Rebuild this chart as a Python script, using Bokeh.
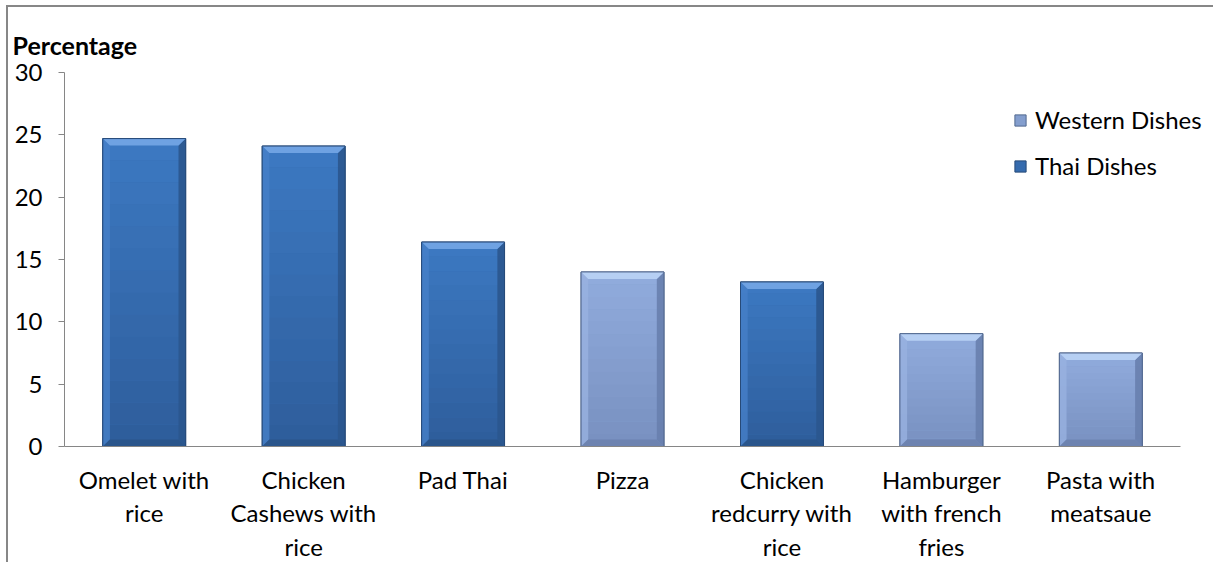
from bokeh.plotting import figure
from bokeh.models import Range1d, FixedTicker, Legend, LegendItem
from bokeh.embed import file_html
from bokeh.resources import INLINE

categories = ["Omelet with rice", "Chicken Cashews with rice", "Pad Thai", "Pizza",
              "Chicken redcurry with rice", "Hamburger with french fries", "Pasta with meatsaue"]
tick_labels = ["Omelet with\nrice", "Chicken\nCashews with\nrice", "Pad Thai", "Pizza",
               "Chicken\nredcurry with\nrice", "Hamburger\nwith french\nfries", "Pasta with\nmeatsaue"]
percentages = [24.7, 24.1, 16.4, 14.0, 13.2, 9.05, 7.5]
groups = ["Thai Dishes", "Thai Dishes", "Thai Dishes", "Western Dishes",
          "Thai Dishes", "Western Dishes", "Western Dishes"]
y_ticks = [0, 5, 10, 15, 20, 25, 30]

palette = {
    "Thai Dishes": dict(top="#3C79C2", bottom="#2E5D9B", bevel_top="#6FA2E2", left="#4680C8",
                        right="#2B568E", bot="#2A5489", line="#274A78"),
    "Western Dishes": dict(top="#91ACDD", bottom="#7890C0", bevel_top="#B6CFF3", left="#98B2E0",
                           right="#6880AE", bot="#6B82AE", line="#52688F"),
}

FONT = "Lato"
W = 0.52          # bar width in category units
DX = 0.045        # bevel width (category units)
DY = 0.56         # bevel height (data units)
N_SLICES = 14
n = len(categories)

p = figure(width=1210, height=570, x_range=Range1d(0, n * 1.034), y_range=Range1d(0, 30),
           output_backend="svg", toolbar_location=None,
           min_border_left=56, min_border_right=0, min_border_top=65, min_border_bottom=131)
p.styles = {"margin-left": "6px", "margin-top": "5px",
            "border-left": "2px solid #878787", "border-top": "2px solid #878787"}
p.outline_line_color = None
p.xgrid.visible = False
p.ygrid.visible = False
p.background_fill_color = "white"
p.border_fill_color = "white"

centers = [i + 0.5 for i in range(n)]

def hex2rgb(h):
    h = h.lstrip("#")
    return [int(h[i:i + 2], 16) for i in (0, 2, 4)]

def mix(c1, c2, t):
    a, b = hex2rgb(c1), hex2rgb(c2)
    return "#%02x%02x%02x" % tuple(int(round(a[k] + (b[k] - a[k]) * t)) for k in range(3))

legend_renderers = {}
for g in ["Western Dishes", "Thai Dishes"]:
    pal = palette[g]
    xs = [c for c, gg in zip(centers, groups) if gg == g]
    vs = [v for v, gg in zip(percentages, groups) if gg == g]
    base = p.vbar(x=xs, top=vs, bottom=0, width=W, fill_color=mix(pal["top"], pal["bottom"], 0.5),
                  line_color=pal["line"], line_width=1)
    legend_renderers[g] = base
    sx, sb, st, sc = [], [], [], []
    for c, v in zip(xs, vs):
        for k in range(N_SLICES):
            sx.append(c)
            sb.append(v * k / N_SLICES)
            st.append(v * (k + 1) / N_SLICES)
            sc.append(mix(pal["bottom"], pal["top"], (k + 0.5) / N_SLICES))
    p.vbar(x=sx, bottom=sb, top=st, width=W, fill_color=sc, line_color=None)
    top_x, top_y, l_x, l_y, r_x, r_y, b_x, b_y = [], [], [], [], [], [], [], []
    for c, v in zip(xs, vs):
        x0, x1 = c - W / 2, c + W / 2
        top_x.append([x0, x1, x1 - DX, x0 + DX]); top_y.append([v, v, v - DY, v - DY])
        l_x.append([x0, x0, x0 + DX, x0 + DX]); l_y.append([0, v, v - DY, DY])
        r_x.append([x1, x1, x1 - DX, x1 - DX]); r_y.append([0, v, v - DY, DY])
        b_x.append([x0, x1, x1 - DX, x0 + DX]); b_y.append([0, 0, DY, DY])
    p.patches(l_x, l_y, fill_color=pal["left"], line_color=None, fill_alpha=0.8)
    p.patches(r_x, r_y, fill_color=pal["right"], line_color=None, fill_alpha=0.9)
    p.patches(b_x, b_y, fill_color=pal["bot"], line_color=None, fill_alpha=0.9)
    p.patches(top_x, top_y, fill_color=pal["bevel_top"], line_color=None)
    p.vbar(x=xs, top=vs, bottom=0, width=W, fill_color=None, line_color=pal["line"], line_width=1)

yax = p.yaxis[0]
yax.ticker = FixedTicker(ticks=y_ticks)
yax.minor_tick_line_color = None
yax.major_tick_out = 6
yax.major_tick_in = 0
yax.major_label_standoff = 16
yax.axis_line_color = "#868686"
yax.major_tick_line_color = "#868686"
yax.major_label_text_font = FONT
yax.major_label_text_font_size = "24px"
yax.major_label_text_color = "black"

xax = p.xaxis[0]
xax.ticker = FixedTicker(ticks=centers)
xax.bounds = (0, n)
xax.major_label_overrides = {c: lab for c, lab in zip(centers, tick_labels)}
xax.minor_tick_line_color = None
xax.major_tick_line_color = None
xax.major_tick_out = 0
xax.major_tick_in = 0
xax.major_label_standoff = 18
xax.axis_line_color = "#868686"
xax.major_label_text_font = FONT
xax.major_label_text_font_size = "24px"
xax.major_label_text_color = "black"
xax.major_label_text_line_height = 1.16

p.title.text = "Percentage"
p.title.align = "left"
p.title.offset = -52
p.title.standoff = 26
p.title.text_font = FONT
p.title.text_font_style = "bold"
p.title.text_font_size = "25px"
p.title.text_color = "black"

legend = Legend(items=[LegendItem(label="Western Dishes", renderers=[legend_renderers["Western Dishes"]]),
                       LegendItem(label="Thai Dishes", renderers=[legend_renderers["Thai Dishes"]])],
                location=(949, 266), glyph_width=14, glyph_height=14, label_standoff=8,
                spacing=17, padding=0, margin=0, border_line_color=None, background_fill_alpha=0,
                label_text_font=FONT, label_text_font_size="24px", label_text_color="black")
p.add_layout(legend)

open("out.html", "w").write(file_html(p, INLINE))
